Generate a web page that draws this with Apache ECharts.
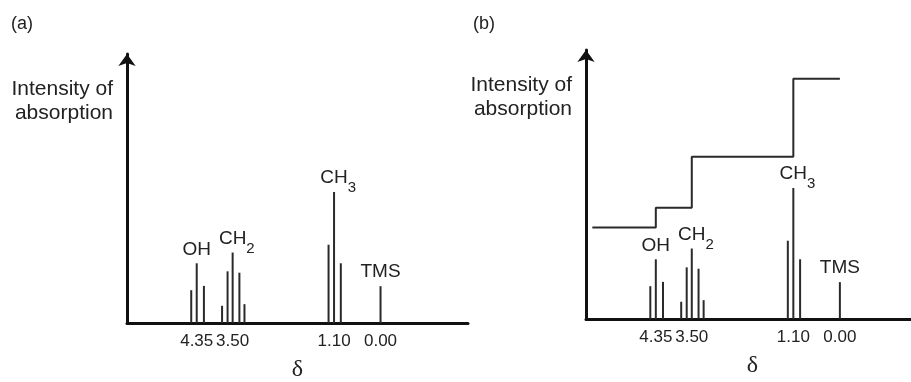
<!DOCTYPE html>
<html>
<head>
<meta charset="utf-8">
<script src="https://cdn.jsdelivr.net/npm/echarts@6/dist/echarts.min.js"></script>
<style>
  html, body { margin: 0; padding: 0; background: #fff; }
  #chart { width: 911px; height: 382px; }
</style>
</head>
<body>
<div id="chart"></div>
<script>
// ---- data (chemical shift δ in ppm, relative intensity) ----
const tickValues = [4.35, 3.50, 1.10, 0.00];
const groupMain = ['OH', 'CH', 'CH', 'TMS'];
const groupSub  = ['', '2', '3', ''];

const ohPpm  = [4.48, 4.35, 4.18];
const ohInt  = [12.2, 22.2, 13.8];
const ch2Ppm = [3.75, 3.62, 3.50, 3.34, 3.22];
const ch2Int = [6.4, 19.2, 26.2, 18.7, 7.0];
const ch3Ppm = [1.23, 1.10, 0.94];
const ch3Int = [29.1, 48.7, 22.2];
const tmsPpm = [0.00];
const tmsInt = [13.7];

// integration trace (panel b): step heights
const integralPpm = [5.85, 4.35, 3.50, 1.10, 0.00];
const integralVal = [34.0, 41.4, 60.3, 89.3, 89.3];

// ---- build ----
const groupsPpm = [ohPpm, ch2Ppm, ch3Ppm, tmsPpm];
const groupsInt = [ohInt, ch2Int, ch3Int, tmsInt];
const peaks = [];
groupsPpm.forEach((g, gi) => g.forEach((p, k) => peaks.push([p, groupsInt[gi][k]])));
const labelData = tickValues.map((v, i) => [v, Math.max.apply(null, groupsInt[i]), i]);
const integral = integralPpm.map((p, i) => [p, integralVal[i]]);

const SANS = '"Liberation Sans", Arial, Helvetica, sans-serif';
const TEXT = '#222';
const INK = '#2a2a2a';
const AXIS = '#111';

const measureCtx = document.createElement('canvas').getContext('2d');
function textWidth(t, font) { measureCtx.font = font; return measureCtx.measureText(t).width; }

function peakItem(params, api) {
  const x = api.value(0), h = api.value(1);
  const p0 = api.coord([x, 0]);
  const p1 = api.coord([x, h]);
  return { type: 'line', shape: { x1: p0[0], y1: p0[1], x2: p1[0], y2: p1[1] },
           style: { stroke: INK, lineWidth: 2 } };
}
function labelItem(params, api) {
  const i = api.value(2);
  const p = api.coord([api.value(0), api.value(1)]);
  const mainFont = '19px ' + SANS;
  const subFont = '15px ' + SANS;
  const y = p[1] - 14;
  const children = [{ type: 'text', x: p[0], y: y,
    style: { text: groupMain[i], font: mainFont, fill: TEXT, align: 'center', verticalAlign: 'middle' } }];
  if (groupSub[i]) {
    const w = textWidth(groupMain[i], mainFont);
    children.push({ type: 'text', x: p[0] + w / 2, y: y + 10,
      style: { text: groupSub[i], font: subFont, fill: TEXT, align: 'left', verticalAlign: 'middle' } });
  }
  return { type: 'group', children: children };
}

function xAxisCfg(idx, min, max) {
  return {
    gridIndex: idx, type: 'value', inverse: true, min: min, max: max,
    axisLine: { onZero: false, lineStyle: { color: AXIS, width: 3 } },
    axisTick: { show: false }, splitLine: { show: false },
    axisLabel: { customValues: tickValues, formatter: v => v.toFixed(2),
                 fontFamily: SANS, fontSize: 17, color: TEXT, margin: 10 },
    name: 'δ', nameLocation: 'middle', nameGap: 35,
    nameTextStyle: { fontFamily: '"Liberation Serif", "Times New Roman", serif', fontSize: 24, color: TEXT }
  };
}
function yAxisCfg(idx) {
  return {
    gridIndex: idx, type: 'value', min: 0, max: 100,
    axisLine: { show: true, onZero: false, symbol: ['none', 'arrow'], symbolSize: [13, 12],
                lineStyle: { color: AXIS, width: 3 } },
    axisTick: { show: false }, splitLine: { show: false }, axisLabel: { show: false },
    name: 'Intensity of\nabsorption', nameLocation: 'end', nameGap: -23,
    nameTextStyle: { fontFamily: SANS, fontSize: 21, color: TEXT, align: 'right',
                     verticalAlign: 'top', lineHeight: 24, padding: [0, 14, 0, 0] }
  };
}

const chart = echarts.init(document.getElementById('chart'), null, { renderer: 'canvas' });
chart.setOption({
  animation: false,
  backgroundColor: '#fff',
  grid: [
    { left: 127, right: 443, top: 54, bottom: 59, outerBoundsMode: 'none' },
    { left: 586, right: -8, top: 50, bottom: 63, outerBoundsMode: 'none' }
  ],
  xAxis: [xAxisCfg(0, -2.07, 6.0), xAxisCfg(1, -1.87, 6.0)],
  yAxis: [yAxisCfg(0), yAxisCfg(1)],
  graphic: [
    { type: 'text', left: 11, top: 15, style: { text: '(a)', font: '18px ' + SANS, fill: TEXT } },
    { type: 'text', left: 473, top: 15, style: { text: '(b)', font: '18px ' + SANS, fill: TEXT } }
  ],
  series: [
    { type: 'custom', xAxisIndex: 0, yAxisIndex: 0, data: peaks, renderItem: peakItem, clip: false },
    { type: 'custom', xAxisIndex: 0, yAxisIndex: 0, data: labelData, renderItem: labelItem, clip: false },
    { type: 'custom', xAxisIndex: 1, yAxisIndex: 1, data: peaks, renderItem: peakItem, clip: false },
    { type: 'custom', xAxisIndex: 1, yAxisIndex: 1, data: labelData, renderItem: labelItem, clip: false },
    { type: 'line', xAxisIndex: 1, yAxisIndex: 1, data: integral, step: 'end', showSymbol: false,
      symbol: 'none', lineStyle: { color: INK, width: 2 }, silent: true }
  ]
});
</script>
</body>
</html>
